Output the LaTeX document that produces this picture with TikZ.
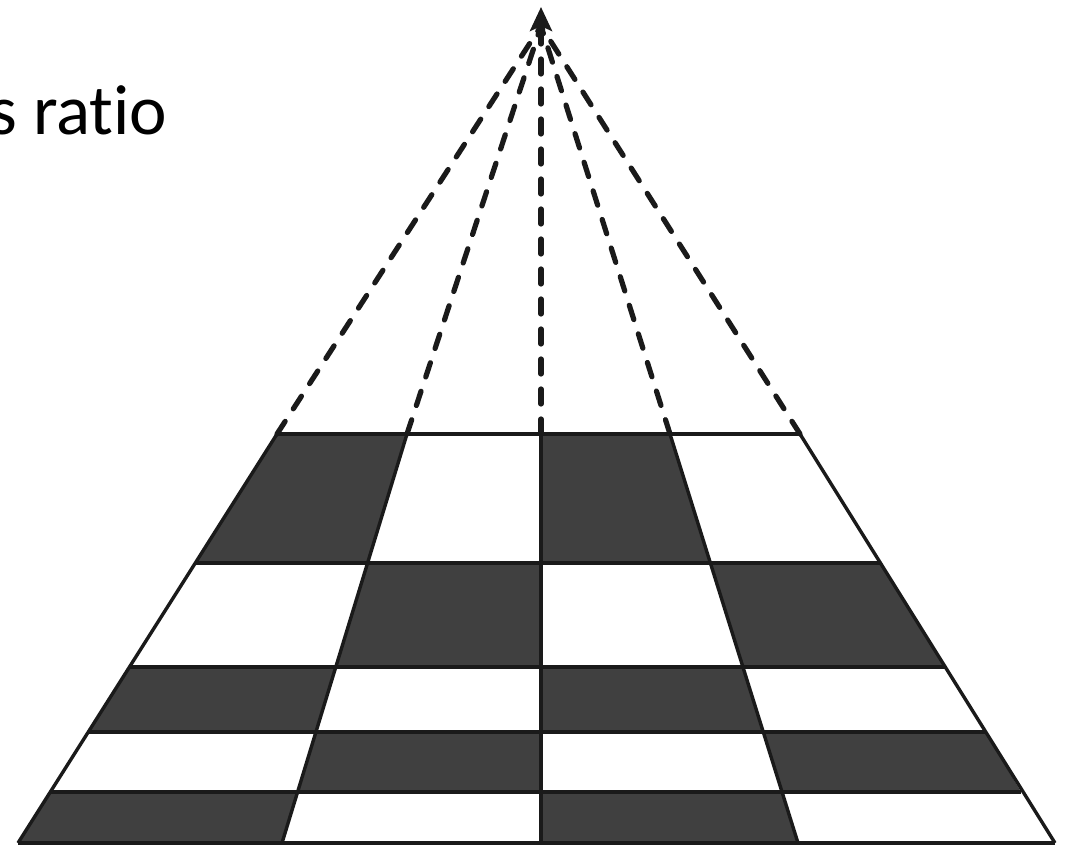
\documentclass[tikz,border=0pt]{standalone}
\usepackage{fontspec}
\setmainfont{Carlito}[Ligatures={NoCommon,NoContextual}]
\usetikzlibrary{arrows.meta}
\definecolor{cellgray}{HTML}{404040}
\definecolor{inkline}{HTML}{1A1A1A}
\begin{document}
\begin{tikzpicture}[x=1pt,y=-1pt,
  gridline/.style={draw=inkline,line width=3.4pt,line join=round},
  cellfill/.style={fill=cellgray},
  ray/.style={draw=inkline,line width=5.2pt,dash pattern=on 15pt off 15pt,line cap=round},
  label/.style={font=\fontsize{71}{78}\selectfont,anchor=base east,inner sep=0pt}]
\useasboundingbox (0,0) rectangle (1074,850);
% grid corner points: row / y / five x positions
\foreach \row/\yy/\xa/\xb/\xc/\xd/\xe in {
  0/434/277/407/541/670/800,
  1/563/195/368/541/710/880,
  2/667/129/337/541/744/946,
  3/732/88/316/541/764/986,
  4/792/50/297/541/782/1021,
  5/843/18/282/541/798/1055}{
  \coordinate (p\row-0) at (\xa,\yy);
  \coordinate (p\row-1) at (\xb,\yy);
  \coordinate (p\row-2) at (\xc,\yy);
  \coordinate (p\row-3) at (\xd,\yy);
  \coordinate (p\row-4) at (\xe,\yy);
}
\coordinate (apex) at (541,26);
\coordinate (tip) at (541,7);
% dark cells
\foreach \i in {0,...,4}{
  \foreach \j in {0,...,3}{
    \pgfmathtruncatemacro\ni{\i+1}
    \pgfmathtruncatemacro\nj{\j+1}
    \pgfmathtruncatemacro\parity{mod(\i+\j,2)}
    \ifnum\parity=0
      \fill[cellfill] (p\i-\j) -- (p\i-\nj) -- (p\ni-\nj) -- (p\ni-\j) -- cycle;
    \fi
  }
}
% grid lines
\foreach \i in {0,...,5}{ \draw[gridline] (p\i-0) -- (p\i-4); }
\foreach \j in {0,...,4}{ \draw[gridline] (p0-\j) -- (p5-\j); }
% dashed rays to the vanishing point
\foreach \j in {0,1,3,4}{ \draw[ray] (p0-\j) -- (apex); }
\draw[ray,-{Stealth[length=24pt,width=22pt,inset=5pt]}] (p0-2) -- (tip);
% text
\node[label] (title) at (167.5,135) {s ratio};
\end{tikzpicture}
\end{document}
